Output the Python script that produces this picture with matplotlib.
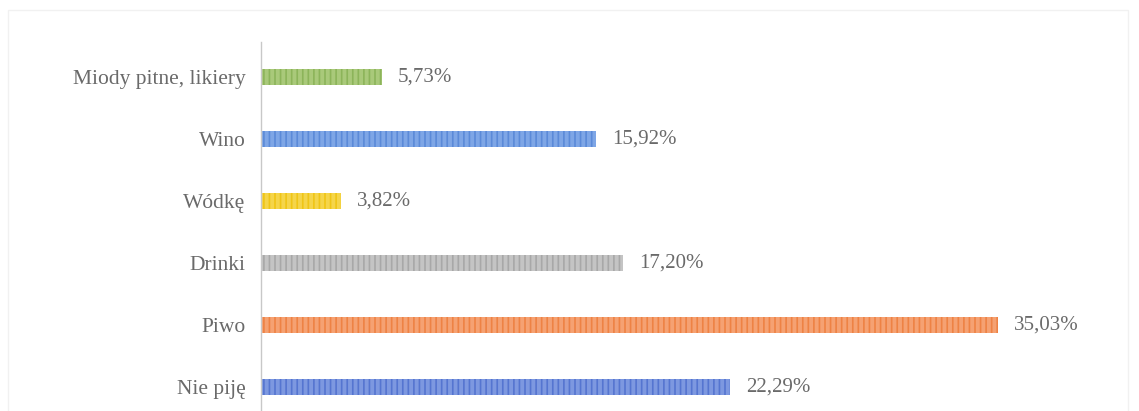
import matplotlib
matplotlib.use("Agg")
import matplotlib.pyplot as plt
from matplotlib.patches import Rectangle

categories = ["Miody pitne, likiery", "Wino", "Wódkę", "Drinki", "Piwo", "Nie piję"]
values = [5.73, 15.92, 3.82, 17.20, 35.03, 22.29]
labels = ["5,73%", "15,92%", "3,82%", "17,20%", "35,03%", "22,29%"]
face_colors = ["#a9c97a", "#7ea6e6", "#f5d54a", "#c4c4c4", "#f5a172", "#7d98e0"]
hatch_colors = ["#8cb45a", "#5b8ad8", "#efc516", "#a8a8a8", "#ee8244", "#5575d0"]

plt.rcParams["font.family"] = ["Liberation Serif", "DejaVu Serif"]
plt.rcParams["hatch.linewidth"] = 1.2

W, H = 1139, 411
fig = plt.figure(figsize=(W / 100, H / 100), dpi=100)
fig.patch.set_facecolor("white")

# faint scan frame
fig.add_artist(Rectangle((8 / W, -0.1), (1128 - 8) / W, (H - 10) / H + 0.1,
                         transform=fig.transFigure, fill=False,
                         edgecolor="#f1f1f1", linewidth=1.0))

left_px, top_px, bottom_px = 261, 46, 418
xmax = 40.0
px_per_unit = (998 - 261) / 35.03
width_px = xmax * px_per_unit
ax = fig.add_axes([left_px / W, (H - bottom_px) / H, width_px / W, (bottom_px - top_px) / H])

ypos = list(range(len(categories)))
for y, v, fc, hc in zip(ypos, values, face_colors, hatch_colors):
    ax.barh(y, v, height=0.26, color=fc, edgecolor=hc, hatch="|||", linewidth=0)

for y, v, lab in zip(ypos, values, labels):
    ax.text(v + 16 / px_per_unit, y, lab, va="center", ha="left",
            fontsize=15, color="#6a6a6a")

ax.set_xlim(0, xmax)
ax.set_ylim(len(categories) - 0.5, -0.5)
ax.set_yticks(ypos)
ax.set_yticklabels(categories, fontsize=15.5, color="#6a6a6a")
ax.tick_params(axis="y", length=0, pad=11)
ax.set_xticks([])
for s in ["top", "right", "bottom"]:
    ax.spines[s].set_visible(False)
ax.spines["left"].set_color("#c8c8c8")
ax.spines["left"].set_linewidth(1.0)
ax.spines["left"].set_bounds(-0.565, len(categories) - 0.5)
ax.patch.set_alpha(0)

fig.savefig("out.png", dpi=100, facecolor="white")
